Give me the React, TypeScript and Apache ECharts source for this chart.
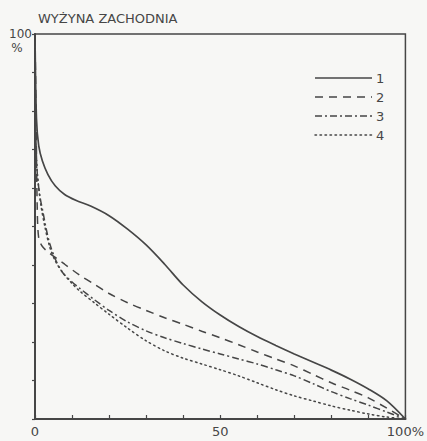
import React, { useEffect, useRef } from "react";
import * as echarts from "echarts";

const title = "WYŻYNA ZACHODNIA";
const seriesNames = ["1", "2", "3", "4"];

const curve1X = [0, 0.4, 1, 2, 3.5, 5.5, 8, 11, 15, 20, 25, 30, 35, 40, 45, 50, 55, 60, 65, 70, 75, 80, 85, 90, 95, 100];
const curve1Y = [100, 78, 71, 67, 63.5, 60.5, 58.3, 56.8, 55.3, 52.8, 49.3, 45.2, 40.2, 34.8, 30.5, 27, 24, 21.4, 19.1, 16.9, 14.8, 12.7, 10.4, 7.8, 4.7, 0];

const curve2X = [0, 0.3, 0.6, 1, 2, 4, 6, 8, 12, 16, 20, 25, 30, 35, 40, 45, 50, 55, 60, 65, 70, 75, 80, 85, 90, 95, 100];
const curve2Y = [100, 78, 55, 47, 44.8, 43, 41.6, 40.2, 37.4, 35, 32.6, 30.2, 28.2, 26.3, 24.6, 22.8, 21.1, 19.3, 17.4, 15.6, 13.8, 11.6, 9.4, 7.5, 5.5, 2.8, 0];

const curve3X = [0, 0.2, 0.6, 1.3, 2.2, 3, 4, 5.5, 7.5, 10, 12, 16, 20, 25, 30, 35, 40, 45, 50, 55, 60, 65, 70, 75, 80, 85, 90, 95, 100];
const curve3Y = [100, 75, 64, 58, 53.5, 49.5, 45.5, 41.5, 38, 35.6, 34, 31, 28.2, 25.2, 22.9, 21.1, 19.6, 18.2, 16.9, 15.6, 14.3, 12.8, 11.2, 9.2, 7.1, 5.3, 3.6, 1.8, 0];

const curve4X = [0, 0.2, 0.8, 1.6, 2.7, 4, 5.5, 7.5, 10, 12, 16, 20, 25, 30, 35, 40, 45, 50, 55, 60, 65, 70, 75, 80, 85, 90, 95, 100];
const curve4Y = [100, 70, 62, 55.5, 49.8, 44.6, 41, 38, 35.2, 33.3, 30.2, 27.2, 23.6, 20.3, 17.7, 15.8, 14.3, 12.8, 11.2, 9.4, 7.6, 6, 4.7, 3.4, 2.3, 1.3, 0.5, 0];

const xTickLabels: Record<number, string> = { 0: "0", 50: "50", 100: "100%" };
const yTickLabels: Record<number, string> = { 100: "100" };

const INK = "#464646";
const FONT = "DejaVu Sans";

const dashStyles: any[] = ["solid", [8, 6], [7, 3, 2, 3], [1.5, 3.5]];

export default function App() {
  const ref = useRef<HTMLDivElement>(null);
  useEffect(() => {
    if (!ref.current) return;
    const chart = echarts.init(ref.current, null, { renderer: "svg" });
    const xs = [curve1X, curve2X, curve3X, curve4X];
    const ys = [curve1Y, curve2Y, curve3Y, curve4Y];
    const series = seriesNames.map((name, i) => ({
      name,
      type: "line",
      data: xs[i].map((x, j) => [x, ys[i][j]]),
      showSymbol: false,
      smooth: 0.3,
      lineStyle: {
        color: INK,
        width: i === 0 ? 1.7 : 1.5,
        type: dashStyles[i],
        cap: i === 3 ? "round" : "butt",
      },
      z: 3,
    }));
    const legendYs = [78, 97, 116, 135];
    const legendGraphics: any[] = [];
    seriesNames.forEach((n, i) => {
      legendGraphics.push({
        type: "line",
        shape: { x1: 315, y1: legendYs[i], x2: 372, y2: legendYs[i] },
        style: {
          stroke: INK,
          lineWidth: 1.5,
          lineDash: i === 0 ? null : dashStyles[i],
          lineCap: i === 3 ? "round" : "butt",
        },
      });
      legendGraphics.push({
        type: "text",
        x: 376,
        y: legendYs[i],
        style: {
          text: n,
          fill: INK,
          font: `13px ${FONT}`,
          textVerticalAlign: "middle",
        },
      });
    });
    chart.setOption({
      animation: false,
      backgroundColor: "#f7f7f5",
      grid: {
        left: 35,
        top: 34,
        width: 377,
        height: 385,
        show: true,
        borderColor: INK,
        borderWidth: 1.5,
        backgroundColor: "transparent",
      },
      xAxis: {
        type: "value",
        min: 0,
        max: 100,
        interval: 10,
        axisLine: { show: true, lineStyle: { color: INK, width: 2 } },
        axisTick: { show: true, inside: true, length: 4, lineStyle: { color: INK, width: 1.2 } },
        splitLine: { show: false },
        axisLabel: {
          margin: 6,
          color: INK,
          fontFamily: FONT,
          fontSize: 13,
          showMaxLabel: true,
          formatter: (v: number) => xTickLabels[v] ?? "",
        },
      },
      yAxis: {
        type: "value",
        min: 0,
        max: 100,
        interval: 10,
        axisLine: { show: true, lineStyle: { color: INK, width: 2 } },
        axisTick: { show: true, inside: false, length: 3, lineStyle: { color: INK, width: 1.2 } },
        splitLine: { show: false },
        axisLabel: {
          margin: 3,
          color: INK,
          fontFamily: FONT,
          fontSize: 12,
          formatter: (v: number) => yTickLabels[v] ?? "",
        },
      },
      series,
      graphic: [
        {
          type: "text",
          x: 38,
          y: 18,
          style: {
            text: title,
            fill: INK,
            font: `13px ${FONT}`,
            textVerticalAlign: "middle",
          },
        },
        {
          type: "text",
          x: 17,
          y: 48,
          style: {
            text: "%",
            fill: INK,
            font: `12px ${FONT}`,
            textAlign: "center",
            textVerticalAlign: "middle",
          },
        },
        ...legendGraphics,
      ],
    });
    return () => chart.dispose();
  }, []);
  return (
    <div
      ref={ref}
      style={{ position: "fixed", left: 0, top: 0, width: 427, height: 441 }}
    />
  );
}
